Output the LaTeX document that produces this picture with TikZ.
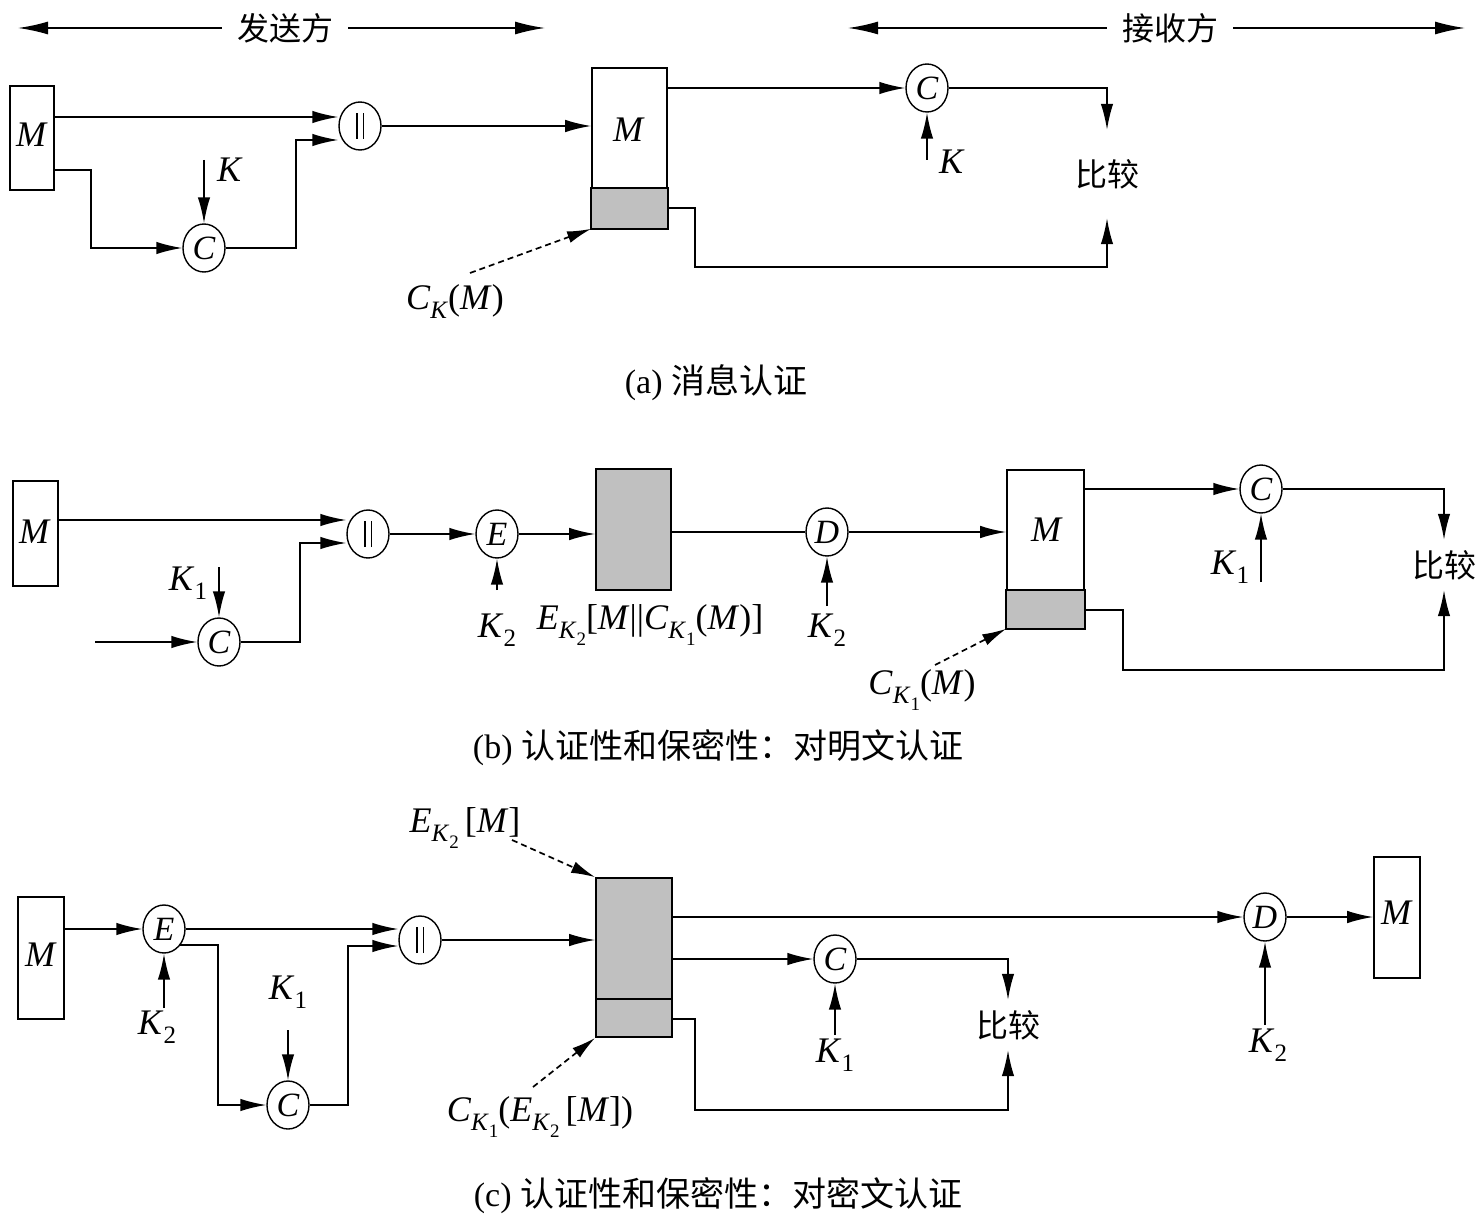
\documentclass[tikz,border=0pt]{standalone}
\usepackage{fontspec}
\usepackage{graphicx}
\setmainfont{Liberation Serif}
\newfontfamily\cjk{Noto Sans CJK SC}
\usetikzlibrary{arrows.meta,shapes.geometric}
\newcommand\subA[1]{\raisebox{-0.25em}{\fontsize{25}{25}\selectfont #1}}
\newcommand\subB[1]{\raisebox{-0.25em}{\fontsize{19}{19}\selectfont #1}}
\newcommand\bars{\raisebox{-13pt}{\rule{1.5pt}{26pt}\hspace{5pt}\rule{1.5pt}{26pt}}}
\definecolor{graybox}{RGB}{192,192,192}
\tikzset{
  lw/.style={line width=1.7pt},
  arr/.style={lw, -{Latex[length=26pt,width=12.5pt]}},
  harr/.style={lw, -{Latex[length=30pt,width=13pt]}},
  darr/.style={lw, dash pattern=on 6pt off 4pt, -{Latex[length=24pt,width=12pt]}},
  circ/.style={ellipse, draw, line width=1.4pt, minimum width=42pt, minimum height=48pt, inner sep=0pt, font=\fontsize{34}{34}\selectfont\itshape},
  box/.style={draw, line width=1.7pt, inner sep=0pt},
  txt/.style={inner sep=0pt, font=\fontsize{36}{36}\selectfont},
  cjkt/.style={inner sep=0pt, font=\fontsize{32}{32}\selectfont\cjk},
  captxt/.style={inner sep=0pt, font=\fontsize{34}{34}\selectfont},
}
\begin{document}
\begin{tikzpicture}[x=1pt,y=-1pt]
\useasboundingbox (0,0) rectangle (1479,1222);
\fill[white] (0,0) rectangle (1479,1222);

% ---------- headers ----------
\node[cjkt, inner xsep=15pt] (snd) at (285,28) {发送方};
\coordinate (sl) at (18,28);
\coordinate (sr) at (545,28);
\draw[harr] (snd.west) -- (sl);
\draw[harr] (snd.east) -- (sr);
\node[cjkt, inner xsep=15pt] (rcv) at (1170,28) {接收方};
\coordinate (rl) at (848,28);
\coordinate (rr) at (1465,28);
\draw[harr] (rcv.west) -- (rl);
\draw[harr] (rcv.east) -- (rr);

% ---------- (a) ----------
\node[box, minimum width=44pt, minimum height=104pt] (ma) at (32,138) {};
\node[txt] at (32,135) {\textit{M}};
\node[circ] (pa) at (360,126) {\bars};
\node[circ] (ca) at (204,248) {C};
\node[txt] (ka) at (230,170) {\textit{K}};
\coordinate (kas) at (204,160);
\draw[arr] (kas) -- (ca.north);
\draw[arr] (ma.east |- 0,117) -- (pa.west |- 0,117);
\draw[arr] (ma.east |- 0,170) -- ++(36,0) |- (ca.west);
\draw[arr] (ca.east) -- ++(70,0) |- (pa.west |- 0,140);
\node[box, minimum width=75pt, minimum height=160pt] (ba) at (629.5,148) {};
\draw[box, fill=graybox] (ba.south west) rectangle (ba.east |- 0,188);
\node[txt] at (629,130) {\textit{M}};
\draw[arr] (pa.east) -- (ba.west |- pa.east);
\node[circ] (ca2) at (927,88) {C};
\draw[arr] (ba.east |- ca2) -- (ca2.west);
\coordinate (ka2s) at (927,160);
\draw[arr] (ka2s) -- (ca2.south);
\node[txt] (ka2) at (952,162) {\textit{K}};
\node[cjkt, minimum height=88pt] (cmpa) at (1107,174) {比较};
\draw[arr] (ca2.east) -| (cmpa.north);
\draw[arr] (ba.east |- 0,208) -- ++(27,0) -- ++(0,59) -| (cmpa.south);
\node[txt] (cka) at (455,302) {\textit{C}\subA{\textit{K}}(\textit{M})};
\coordinate (dsa) at (470,273);
\draw[darr] (dsa) -- (ba.south west);
\node[captxt] (capa) at (716,383) {(a) {\cjk 消息认证}};

% ---------- (b) ----------
\node[box, minimum width=45pt, minimum height=105pt] (mb) at (35.5,533.5) {};
\node[txt] at (35,532) {\textit{M}};
\node[circ] (pb) at (368,534) {\bars};
\draw[arr] (mb.east |- 0,520) -- (pb.west |- 0,520);
\coordinate (inb) at (95,642);
\node[circ] (cb) at (219,642) {C};
\draw[arr] (inb) -- (cb.west);
\coordinate (k1bs) at (219,567);
\draw[arr] (k1bs) -- (cb.north);
\node[txt] (k1b) at (188,583) {\textit{K}\subA{1}};
\draw[arr] (cb.east) -- ++(59,0) |- (pb.west |- 0,543);
\node[circ] (eb) at (497,534) {E};
\draw[arr] (pb.east) -- (eb.west);
\coordinate (k2bs) at (497,590);
\draw[arr] (k2bs) -- (eb.south);
\node[txt] (k2b) at (497,630) {\textit{K}\subA{2}};
\node[box, fill=graybox, minimum width=75pt, minimum height=121pt] (gb) at (633.5,529.5) {};
\draw[arr] (eb.east) -- (gb.west |- eb.east);
\node[txt] (lbb) at (650,625) {\textit{E}\subA{\textit{K}\subB{2}}[\textit{M}\textbar\textbar\textit{C}\subA{\textit{K}\subB{1}}(\textit{M})]};
\node[circ] (db) at (827,532) {D};
\draw[lw] (gb.east |- db) -- (db.west);
\coordinate (k2b2s) at (827,606);
\draw[arr] (k2b2s) -- (db.south);
\node[txt] (k2b2) at (827,630) {\textit{K}\subA{2}};
\node[box, minimum width=77pt, minimum height=158pt] (rb) at (1045.5,549) {};
\draw[box, fill=graybox] (rb.south west) rectangle (rb.east |- 0,590);
\node[txt] at (1047,530) {\textit{M}};
\draw[arr] (db.east) -- (rb.west |- db.east);
\node[circ] (cb2) at (1261,489) {C};
\draw[arr] (rb.east |- cb2) -- (cb2.west);
\coordinate (k1b2s) at (1261,582);
\draw[arr] (k1b2s) -- (cb2.south);
\node[txt] (k1b2) at (1230,567) {\textit{K}\subA{1}};
\node[cjkt, minimum height=50pt] (cmpb) at (1444,565) {比较};
\draw[arr] (cb2.east) -| (cmpb.north);
\draw[arr] (rb.east |- 0,610) -- ++(38,0) -- ++(0,60) -| (cmpb.south);
\node[txt] (ckb) at (922,690) {\textit{C}\subA{\textit{K}\subB{1}}(\textit{M})};
\coordinate (dsb) at (935,665);
\draw[darr] (dsb) -- (rb.south west);
\node[captxt] (capb) at (718,748) {(b) {\cjk 认证性和保密性：对明文认证}};

% ---------- (c) ----------
\node[box, minimum width=46pt, minimum height=122pt] (mc) at (41,958) {};
\node[txt] at (41,955) {\textit{M}};
\node[circ] (ec) at (164,929) {E};
\draw[arr] (mc.east |- ec) -- (ec.west);
\coordinate (k2cs) at (164,1008);
\draw[arr] (k2cs) -- (ec.south);
\node[txt] (k2c) at (157,1027) {\textit{K}\subA{2}};
\node[circ] (pc) at (420,940) {\bars};
\draw[arr] (ec.east) -- (pc.west |- ec.east);
\node[circ] (cc) at (288,1105) {C};
\draw[arr] (ec.-45) -- ++(38,0) |- (cc.west);
\coordinate (k1cs) at (288,1030);
\draw[arr] (k1cs) -- (cc.north);
\node[txt] (k1c) at (288,992) {\textit{K}\subA{1}};
\draw[arr] (cc.east) -- ++(38,0) |- (pc.west |- 0,946);
\node[box, fill=graybox, minimum width=76pt, minimum height=159pt] (gc) at (634,957.5) {};
\draw[box] (gc.west |- 0,999) -- (gc.east |- 0,999);
\draw[arr] (pc.east) -- (gc.west |- pc.east);
\node[circ] (dc) at (1265,917) {D};
\draw[arr] (gc.east |- dc) -- (dc.west);
\node[box, minimum width=46pt, minimum height=121pt] (mc2) at (1397,917.5) {};
\node[txt] at (1397,913) {\textit{M}};
\draw[arr] (dc.east) -- (mc2.west |- dc.east);
\coordinate (k2c2s) at (1265,1025);
\draw[arr] (k2c2s) -- (dc.south);
\node[txt] (k2c2) at (1268,1045) {\textit{K}\subA{2}};
\node[circ] (cc2) at (835,959) {C};
\draw[arr] (gc.east |- cc2) -- (cc2.west);
\coordinate (k1c2s) at (835,1035);
\draw[arr] (k1c2s) -- (cc2.south);
\node[txt] (k1c2) at (835,1055) {\textit{K}\subA{1}};
\node[cjkt, minimum height=50pt] (cmpc) at (1008,1025) {比较};
\draw[arr] (cc2.east) -| (cmpc.north);
\draw[arr] (gc.east |- 0,1019) -- ++(22,0) -- ++(0,91) -| (cmpc.south);
\node[txt] (ekc) at (465,828) {\textit{E}\subA{\textit{K}\subB{2}}\,[\textit{M}]};
\coordinate (dsc1) at (512,840);
\draw[darr] (dsc1) -- (gc.north west);
\node[txt] (ckc) at (540,1117) {\textit{C}\subA{\textit{K}\subB{1}}(\textit{E}\subA{\textit{K}\subB{2}}\,[\textit{M}])};
\coordinate (dsc2) at (533,1087);
\draw[darr] (dsc2) -- (gc.south west);
\node[captxt] (capc) at (718,1196) {(c) {\cjk 认证性和保密性：对密文认证}};
\end{tikzpicture}
\end{document}
